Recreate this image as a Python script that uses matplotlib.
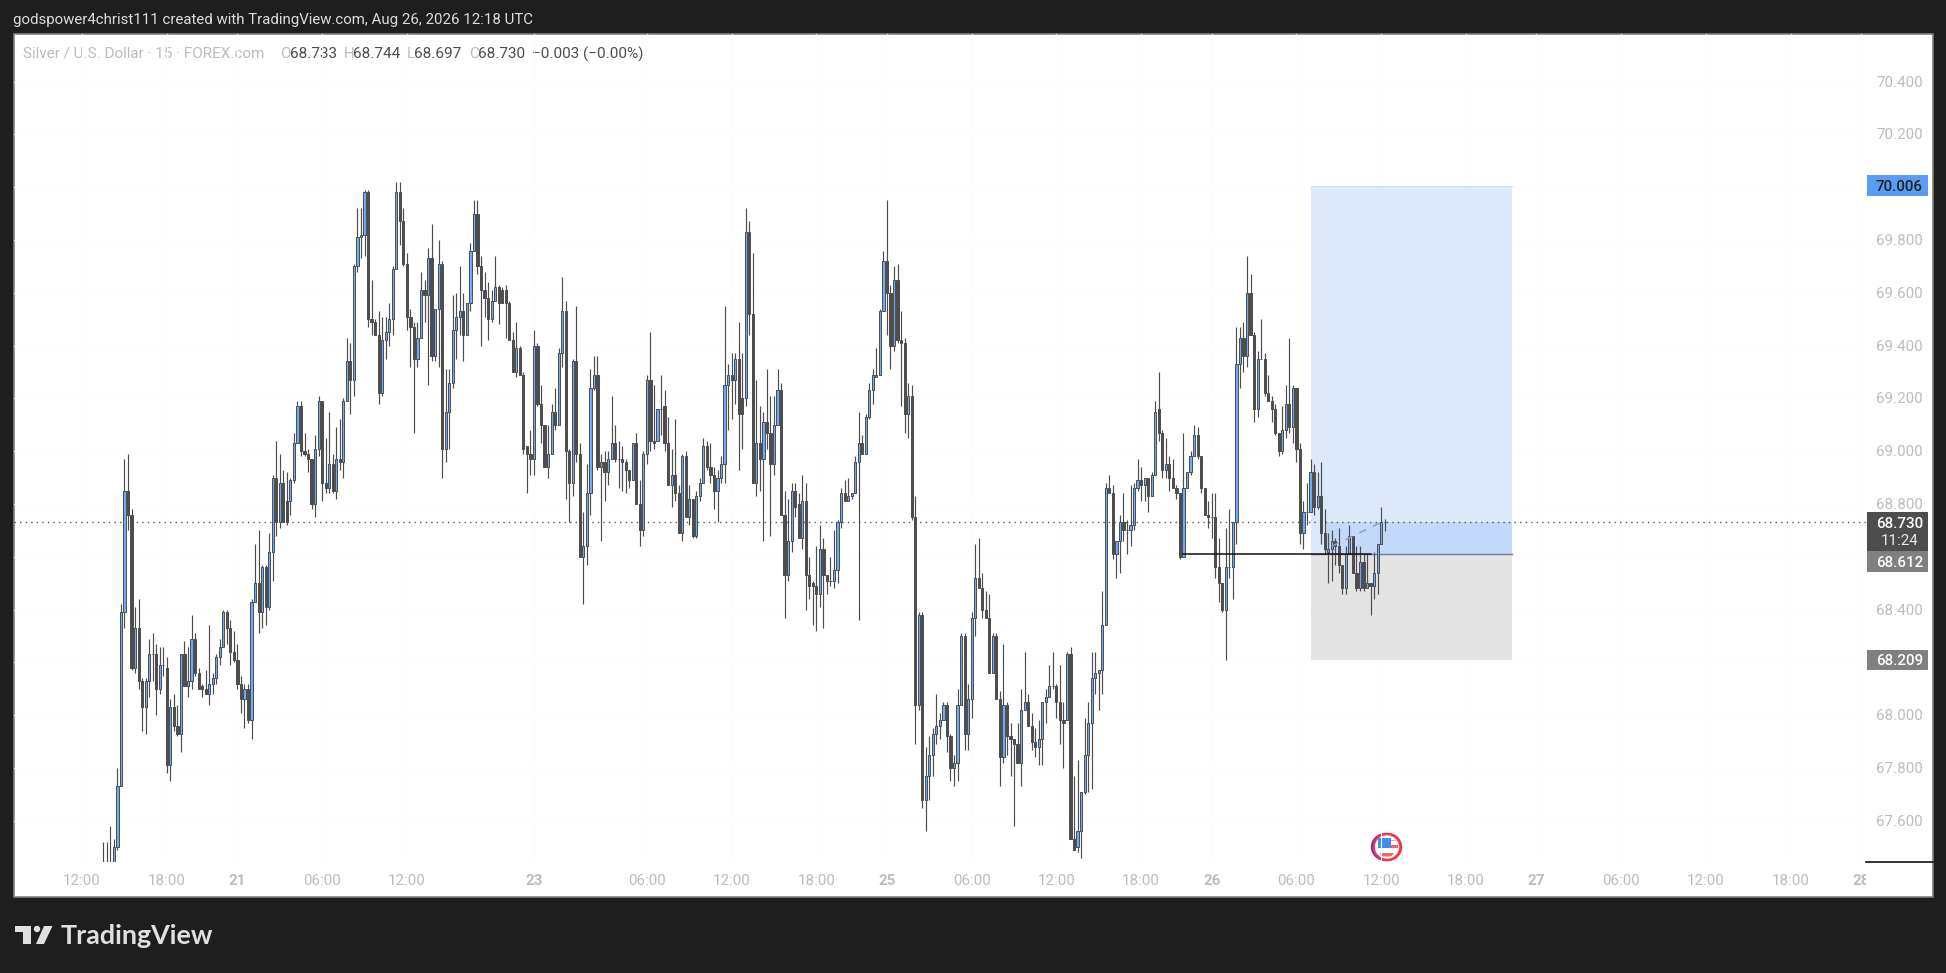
import matplotlib
matplotlib.use("Agg")
import matplotlib.pyplot as plt
from matplotlib.patches import Circle, Ellipse, Polygon, Rectangle

W, H = 1946, 973

opens = [
    67.42,67.42,67.38,67.41,67.50,67.73,68.39,68.85,68.76,68.18,
    68.33,68.13,68.03,68.13,68.23,68.23,68.10,68.19,68.18,67.81,
    68.03,67.96,67.93,68.23,68.11,68.13,68.29,68.16,68.11,68.10,
    68.08,68.12,68.14,68.22,68.26,68.39,68.33,68.24,68.21,68.12,
    68.06,68.10,67.98,68.43,68.50,68.39,68.56,68.41,68.62,68.90,
    68.73,68.88,68.81,68.81,68.89,69.03,69.17,69.00,68.99,68.97,
    68.80,69.01,69.19,68.88,68.86,68.95,68.85,68.97,68.96,69.19,
    69.34,69.27,69.70,69.81,69.82,69.98,69.50,69.49,69.44,69.22,
    69.42,69.45,69.50,69.69,69.98,69.87,69.71,69.51,69.47,69.35,
    69.43,69.61,69.59,69.73,69.36,69.54,69.71,69.01,69.15,69.26,
    69.46,69.51,69.53,69.44,69.56,69.76,69.90,69.70,69.61,69.58,
    69.50,69.57,69.62,69.61,69.61,69.56,69.42,69.30,69.39,69.29,
    69.02,68.99,68.97,69.40,69.18,69.10,68.94,68.99,69.15,69.10,
    69.37,69.53,69.00,68.88,69.34,68.99,68.60,68.64,68.84,69.24,
    69.29,68.94,68.96,68.92,68.97,69.03,68.97,68.97,68.96,68.93,
    68.89,69.03,68.80,68.70,68.99,69.27,69.04,69.04,69.16,69.17,
    69.03,68.87,68.91,68.84,68.69,68.98,68.75,68.82,68.68,68.83,
    68.88,69.02,68.94,68.91,68.85,68.90,68.95,69.25,69.29,69.27,
    69.35,69.20,69.20,69.83,69.52,68.88,69.03,68.97,69.11,69.07,
    68.95,69.10,69.23,68.76,68.53,68.66,68.85,68.80,68.67,68.81,
    68.53,68.50,68.49,68.46,68.63,68.53,68.51,68.51,68.55,68.73,
    68.84,68.81,68.83,68.84,68.96,69.03,68.99,69.13,69.23,69.28,
    69.29,69.53,69.72,69.60,69.40,69.65,69.42,69.41,69.14,69.21,
    68.75,68.04,68.38,67.68,67.77,67.85,67.93,67.96,67.98,68.04,
    67.92,67.80,67.82,68.04,68.30,67.93,68.06,68.37,68.52,68.48,
    68.40,68.37,68.16,68.30,68.06,67.84,68.04,67.92,67.91,67.89,
    67.82,68.02,68.05,67.96,67.90,67.88,67.91,68.05,68.07,68.11,
    68.11,68.05,67.98,67.98,68.23,67.53,67.50,67.56,67.71,67.85,
    67.97,68.14,68.16,68.17,68.34,68.86,68.84,68.61,68.66,68.73,
    68.70,68.70,68.72,68.86,68.89,68.87,68.90,68.83,68.91,69.16,
    69.07,68.93,68.95,68.90,68.86,68.84,68.60,68.86,68.92,68.98,
    69.06,68.98,68.86,68.76,68.75,68.75,68.56,68.50,68.40,68.56,
    68.56,68.73,69.33,69.43,69.36,69.60,69.44,69.16,69.35,69.35,
    69.22,69.19,69.16,69.07,69.00,69.08,69.18,69.09,69.24,69.01,
    68.69,68.77,68.77,68.92,68.79,68.83,68.69,68.62,68.63,68.66,
    68.64,68.57,68.48,68.61,68.68,68.54,68.48,68.58,68.48,68.50,
    68.49,68.54,68.65,68.733,
]
highs = [
    67.52,67.52,67.58,67.53,67.80,68.42,68.97,68.99,68.78,68.41,
    68.44,68.14,68.14,68.29,68.31,68.27,68.26,68.26,68.22,68.06,
    68.08,68.04,68.23,68.28,68.26,68.38,68.31,68.18,68.12,68.17,
    68.34,68.16,68.23,68.29,68.40,68.40,68.36,68.32,68.27,68.15,
    68.12,68.12,68.44,68.65,68.70,68.57,68.57,68.69,68.91,69.04,
    68.99,68.93,68.92,68.90,69.07,69.19,69.19,69.07,69.01,68.97,
    69.06,69.21,69.19,69.05,69.15,68.99,69.09,69.12,69.20,69.43,
    69.41,69.71,69.92,69.92,69.99,69.99,69.65,69.50,69.53,69.51,
    69.51,69.56,69.70,70.02,70.02,69.92,69.75,69.54,69.49,69.49,
    69.68,69.65,69.77,69.86,69.54,69.80,69.72,69.31,69.31,69.59,
    69.60,69.70,69.60,69.56,69.79,69.95,69.95,69.74,69.68,69.64,
    69.61,69.74,69.63,69.62,69.63,69.57,69.45,69.49,69.40,69.30,
    69.02,69.08,69.46,69.41,69.25,69.10,69.10,69.18,69.24,69.39,
    69.66,69.57,69.01,69.35,69.55,69.03,68.77,68.95,69.31,69.36,
    69.36,68.99,69.00,69.00,69.21,69.10,69.04,69.02,68.97,68.93,
    69.03,69.07,68.89,69.00,69.29,69.45,69.25,69.16,69.29,69.23,
    69.13,69.01,69.12,68.87,68.99,69.00,68.87,68.82,68.85,68.90,
    69.05,69.04,69.03,68.94,68.93,68.98,69.55,69.33,69.37,69.37,
    69.49,69.37,69.92,69.87,69.75,69.27,69.17,69.15,69.31,69.21,
    69.21,69.31,69.26,68.85,68.82,68.88,68.88,68.84,68.91,68.88,
    68.60,68.51,68.64,68.72,68.67,68.53,68.60,68.70,68.74,68.86,
    68.89,68.90,68.84,68.98,69.15,69.06,69.14,69.26,69.31,69.39,
    69.54,69.76,69.95,69.63,69.70,69.71,69.53,69.43,69.26,69.25,
    68.83,68.39,68.39,67.88,67.92,67.95,68.08,68.01,68.05,68.05,
    67.93,67.85,68.10,68.31,68.31,68.12,68.39,68.65,68.67,68.54,
    68.47,68.46,68.31,68.31,68.09,68.27,68.05,67.97,67.91,67.97,
    68.10,68.24,68.08,68.01,67.95,67.98,68.05,68.10,68.19,68.24,
    68.12,68.19,68.05,68.24,68.26,67.77,67.83,67.71,67.99,68.05,
    68.24,68.24,68.17,68.47,68.88,68.91,68.87,68.66,68.76,68.84,
    68.74,68.87,68.88,68.97,68.94,68.90,68.90,68.92,69.19,69.30,
    69.08,69.05,68.98,68.97,68.87,68.84,69.07,68.92,69.00,69.10,
    69.09,68.98,68.86,68.81,68.84,68.84,68.67,68.50,68.71,68.78,
    68.73,69.47,69.47,69.49,69.74,69.67,69.45,69.38,69.50,69.37,
    69.29,69.21,69.18,69.07,69.17,69.25,69.43,69.25,69.24,69.03,
    68.81,68.88,68.97,68.95,68.92,68.96,68.78,68.69,68.70,68.67,
    68.71,68.57,68.64,68.72,68.68,68.64,68.64,68.61,68.61,68.50,
    68.62,68.65,68.79,68.744,
]
lows = [
    67.35,67.33,67.30,67.36,67.49,67.73,68.33,68.70,68.17,68.16,
    68.10,67.94,67.93,68.07,68.13,68.00,68.08,68.15,67.78,67.75,
    67.94,67.92,67.86,68.11,68.07,68.10,68.15,68.10,68.07,68.08,
    68.04,68.08,68.12,68.19,68.26,68.27,68.19,68.20,68.10,68.01,
    67.95,67.97,67.91,68.43,68.31,68.33,68.34,68.40,68.51,68.68,
    68.71,68.73,68.72,68.76,68.88,69.03,68.98,68.98,68.92,68.78,
    68.75,68.98,68.81,68.84,68.84,68.84,68.82,68.93,68.90,69.19,
    69.14,69.21,69.68,69.73,69.74,69.47,69.44,69.44,69.18,69.21,
    69.35,69.40,69.44,69.69,69.78,69.70,69.46,69.32,69.07,69.32,
    69.43,69.49,69.25,69.34,69.34,69.32,68.90,68.96,69.01,69.24,
    69.35,69.44,69.34,69.44,69.53,69.76,69.67,69.40,69.51,69.42,
    69.49,69.57,69.48,69.56,69.43,69.42,69.30,69.28,69.29,68.99,
    68.84,68.91,68.91,69.17,69.03,68.94,68.90,68.99,69.08,69.10,
    69.32,68.82,68.73,68.83,68.96,68.60,68.42,68.57,68.76,69.23,
    68.93,68.66,68.81,68.87,68.97,68.96,68.86,68.85,68.84,68.86,
    68.89,68.80,68.64,68.68,68.95,69.00,69.01,69.04,69.06,69.00,
    68.87,68.79,68.81,68.69,68.66,68.75,68.72,68.67,68.67,68.81,
    68.88,68.93,68.88,68.78,68.73,68.88,68.88,69.08,69.12,69.18,
    68.93,69.01,69.17,69.44,68.88,68.83,68.85,68.66,69.01,68.68,
    68.91,69.10,68.76,68.37,68.51,68.62,68.75,68.67,68.63,68.40,
    68.44,68.34,68.32,68.41,68.33,68.46,68.49,68.48,68.50,68.71,
    68.81,68.81,68.82,68.84,68.36,68.99,68.99,69.12,69.18,69.28,
    69.29,69.53,69.44,69.31,69.38,69.41,69.17,69.07,69.05,68.74,
    67.89,68.02,67.65,67.56,67.68,67.77,67.89,67.91,67.98,67.86,
    67.75,67.73,67.75,68.04,67.87,67.87,67.99,68.30,68.48,68.37,
    68.37,68.16,68.16,68.06,67.73,67.82,67.85,67.77,67.58,67.82,
    67.73,68.02,67.96,67.87,67.84,67.81,67.81,67.97,68.07,68.10,
    67.99,67.89,67.80,67.98,67.53,67.49,67.48,67.46,67.70,67.71,
    67.72,68.08,68.02,68.08,68.34,68.84,68.59,68.52,68.54,68.66,
    68.61,68.64,68.70,68.85,68.81,68.81,68.77,68.83,68.91,69.04,
    68.90,68.90,68.85,68.86,68.82,68.59,68.60,68.86,68.91,68.98,
    68.97,68.84,68.76,68.71,68.67,68.52,68.43,68.39,68.21,68.52,
    68.44,68.65,69.24,69.30,69.32,69.44,69.11,69.13,69.35,69.21,
    69.19,69.11,69.06,68.98,68.99,69.05,69.07,69.03,68.96,68.65,
    68.63,68.72,68.77,68.76,68.78,68.65,68.61,68.50,68.51,68.57,
    68.54,68.46,68.46,68.61,68.54,68.47,68.47,68.47,68.48,68.38,
    68.44,68.46,68.65,68.697,
]
closes = [
    67.40,67.38,67.41,67.50,67.73,68.39,68.85,68.76,68.18,68.33,
    68.13,68.03,68.13,68.23,68.23,68.10,68.19,68.19,67.81,68.03,
    67.96,67.93,68.23,68.11,68.13,68.29,68.16,68.10,68.10,68.08,
    68.12,68.14,68.22,68.26,68.39,68.33,68.24,68.21,68.12,68.06,
    68.10,67.98,68.43,68.50,68.39,68.56,68.41,68.62,68.90,68.73,
    68.88,68.73,68.73,68.89,69.03,69.17,69.00,68.99,68.97,68.80,
    69.01,69.19,68.88,68.86,68.95,68.85,68.97,68.96,69.19,69.34,
    69.27,69.70,69.81,69.82,69.98,69.50,69.49,69.44,69.22,69.42,
    69.45,69.50,69.69,69.98,69.87,69.71,69.51,69.47,69.35,69.43,
    69.61,69.59,69.73,69.36,69.54,69.71,69.01,69.15,69.26,69.46,
    69.51,69.53,69.44,69.56,69.76,69.90,69.70,69.61,69.58,69.50,
    69.57,69.62,69.56,69.56,69.56,69.42,69.30,69.39,69.29,69.01,
    68.99,68.97,69.40,69.18,69.10,68.94,68.99,69.15,69.10,69.37,
    69.53,69.00,68.88,69.34,68.99,68.60,68.64,68.84,69.24,69.29,
    68.94,68.96,68.92,68.97,69.03,68.97,68.97,68.96,68.93,68.89,
    69.03,68.80,68.70,68.99,69.27,69.04,69.03,69.16,69.16,69.03,
    68.87,68.91,68.84,68.69,68.98,68.75,68.82,68.68,68.83,68.88,
    69.02,68.94,68.91,68.85,68.90,68.95,69.25,69.29,69.27,69.35,
    69.14,69.14,69.83,69.52,68.88,69.03,68.97,69.11,69.07,68.95,
    69.10,69.23,68.76,68.53,68.66,68.85,68.79,68.67,68.81,68.53,
    68.49,68.49,68.46,68.63,68.53,68.51,68.51,68.55,68.73,68.84,
    68.81,68.83,68.84,68.96,69.03,68.99,69.13,69.23,69.29,69.29,
    69.53,69.72,69.60,69.40,69.65,69.42,69.41,69.14,69.21,68.75,
    68.04,68.38,67.68,67.77,67.85,67.93,67.96,67.98,68.04,67.92,
    67.80,67.82,68.04,68.30,67.93,68.06,68.37,68.52,68.48,68.40,
    68.37,68.16,68.30,68.06,67.84,68.04,67.92,67.91,67.89,67.82,
    68.02,68.05,67.96,67.90,67.88,67.91,68.05,68.07,68.11,68.11,
    68.05,67.98,67.97,68.23,67.53,67.49,67.56,67.71,67.85,67.97,
    68.14,68.16,68.17,68.34,68.86,68.84,68.61,68.66,68.73,68.70,
    68.70,68.72,68.86,68.89,68.87,68.90,68.83,68.91,69.15,69.07,
    68.93,68.95,68.90,68.86,68.84,68.60,68.86,68.92,68.98,69.06,
    68.98,68.86,68.76,68.75,68.75,68.56,68.50,68.40,68.56,68.56,
    68.73,69.33,69.43,69.36,69.60,69.44,69.16,69.35,69.35,69.22,
    69.19,69.16,69.07,69.00,69.08,69.18,69.09,69.24,69.01,68.69,
    68.77,68.77,68.92,68.79,68.83,68.69,68.63,68.63,68.66,68.64,
    68.57,68.48,68.61,68.68,68.54,68.48,68.58,68.48,68.50,68.49,
    68.54,68.65,68.73,68.730,
]

time_ticks = [-6, 18, 38, 62, 86, 122, 154, 178, 202, 222, 246, 270, 294, 314,
              338, 362, 386, 406, 430, 454, 478, 498]
time_labels = ["12:00", "18:00", "21", "06:00", "12:00", "23", "06:00", "12:00",
               "18:00", "25", "06:00", "12:00", "18:00", "26", "06:00", "12:00",
               "18:00", "27", "06:00", "12:00", "18:00", "28"]
price_ticks = [70.4, 70.2, 70.0, 69.8, 69.6, 69.4, 69.2, 69.0, 68.8, 68.6, 68.4,
               68.2, 68.0, 67.8, 67.6]
hidden_ticks = [70.0, 68.6, 68.2]

last_price = 68.730
target = 70.006
entry = 68.612
stop = 68.209
tool_start, tool_end = 342, 399
fill_start = 346
level_start, level_end = 306, 359
path_bars = [348, 363]
path_prices = [68.64, 68.737]

DARK = "#4d4d4d"
BLUE = "#6eaafa"
FRAME = "#1e1e1e"
FAINT = "#bcbcbc"
FONT = "Roboto"
AXIS_SIZE = 10.9
HEAD_SIZE = 10.8
LEGEND_SIZE = 11


def px_axes(fig, x0, y0, x1, y1):
    return fig.add_axes([x0 / W, 1 - y1 / H, (x1 - x0) / W, (y1 - y0) / H])


def price_tag(ax, centre, color, text, text_color="white", height=0.079):
    ax.add_patch(Rectangle((0.02, centre - height / 2), 0.91, height, color=color, lw=0))
    ax.text(0.5, centre - 0.004, text, color=text_color, fontsize=AXIS_SIZE, fontweight="medium",
            ha="center", va="center")


def draw_chrome(ax):
    ax.add_patch(Rectangle((13.5, 34), 1919.5, 863, fc="white", ec="#808080", lw=1.2))
    # flag icon
    ax.add_patch(Ellipse((1386, 847), 29, 27, color="#7a2fb0"))
    ax.add_patch(Ellipse((1387.5, 847), 28, 27, color="#f23645"))
    ax.add_patch(Ellipse((1387, 847), 23, 22, color="white"))
    ax.add_patch(Rectangle((1377.5, 838), 13, 10, color="#3d8ef0", lw=0))
    ax.add_patch(Rectangle((1390.5, 845), 7, 3, color="#f4606b", lw=0))
    ax.add_patch(Rectangle((1390.5, 839.5), 5, 1.5, color="#f8a5ab", lw=0))
    ax.add_patch(Polygon([(1380, 853), (1394, 853), (1391, 856.5), (1383, 856.5)], color="#f4606b", lw=0))
    # logo
    logo = "#e0e0e0"
    ax.add_patch(Polygon([(15, 926), (31, 926), (31, 944), (23, 944), (23, 932), (15, 932)], color=logo, lw=0))
    ax.add_patch(Circle((37, 929), 3.2, color=logo, lw=0))
    ax.add_patch(Polygon([(44, 926), (52.5, 926), (44, 944), (36, 944)], color=logo, lw=0))
    ax.text(61, 936, "TradingView", color=logo, fontsize=19.4, family="Lato", fontweight="bold",
            ha="left", va="center")
    ax.text(13, 20, "godspower4christ111 created with TradingView.com, Aug 26, 2026 12:18 UTC",
            color="#dcdcdc", fontsize=HEAD_SIZE, ha="left", va="center")
    # symbol legend
    y = 54
    ax.text(23, y, "Silver / U.S. Dollar · 15 · FOREX.com", color=FAINT, fontsize=LEGEND_SIZE, ha="left", va="center")
    for x, letter, value_x, value in [(280, "O", 290, "68.733"), (344, "H", 353, "68.744"),
                                      (407, "L", 414, "68.697"), (469, "C", 478, "68.730")]:
        ax.text(x, y, letter, color=FAINT, fontsize=LEGEND_SIZE, ha="left", va="center")
        ax.text(value_x, y, value, color=DARK, fontsize=LEGEND_SIZE, ha="left", va="center")
    ax.text(532, y, "−0.003 (−0.00%)", color=DARK, fontsize=LEGEND_SIZE, ha="left", va="center")


def main():
    plt.rcParams["font.family"] = [FONT, "DejaVu Sans"]
    fig = plt.figure(figsize=(W / 100, H / 100), dpi=100, facecolor=FRAME)

    chrome = fig.add_axes([0, 0, 1, 1], zorder=0)
    chrome.set_xlim(0, W)
    chrome.set_ylim(H, 0)
    chrome.axis("off")
    draw_chrome(chrome)

    ax = px_axes(fig, 14, 34, 1866, 862)
    ax.set_zorder(1)
    ax.patch.set_alpha(0)
    spacing = 3.53
    ax.set_xlim((14 - 103.3) / spacing, (1866 - 103.3) / spacing)
    ax.set_ylim(67.444, 70.58)
    for s in ax.spines.values():
        s.set_visible(False)
    ax.set_xticks(time_ticks)
    ax.set_yticks(price_ticks)
    ax.tick_params(length=0, labelleft=False, labelbottom=False)
    ax.grid(True, color="#fdfdfd", lw=0.8)
    ax.set_axisbelow(True)

    # position tool
    tool_x = [tool_start, tool_end]
    ax.fill_between(tool_x, entry, target, color="#dce9fb", lw=0, zorder=1)
    ax.fill_between(tool_x, stop, entry, color="#e4e4e4", lw=0, zorder=1)
    ax.fill_between([fill_start, tool_end], entry, last_price, color="#c3d9f9", lw=0, zorder=1.1)
    ax.plot(tool_x, [entry, entry], color="#787b86", lw=1, zorder=1.2)
    ax.plot(tool_x, [target, target], color="#cfe0f8", lw=0.8, zorder=1.2)

    ax.axhline(last_price, color="#555555", lw=1, ls=(0, (1, 3)), zorder=2)

    xs = list(range(len(opens)))
    ax.vlines(xs, lows, highs, color=DARK, lw=0.85, zorder=3)
    bottoms = [min(o, c) for o, c in zip(opens, closes)]
    heights = [abs(o - c) for o, c in zip(opens, closes)]
    faces = [BLUE if c >= o else DARK for o, c in zip(opens, closes)]
    ax.bar(xs, heights, bottom=bottoms, width=0.62, color=faces, edgecolor=DARK, lw=0.7, zorder=4)

    ax.plot([level_start, level_end], [entry, entry], color="#111111", lw=1.1, zorder=5)
    ax.plot(path_bars, path_prices, color="#a0a0a0", lw=1.1, ls=(0, (5, 5)), zorder=5)

    # price axis
    ax_price = px_axes(fig, 1866, 34, 1933, 862)
    ax_price.set_zorder(2)
    ax_price.patch.set_alpha(0)
    ax_price.set_xlim(0, 1)
    ax_price.set_ylim(ax.get_ylim())
    ax_price.axis("off")
    for p in price_ticks:
        if p not in hidden_ticks:
            ax_price.text(0.5, p - 0.004, f"{p:.3f}", color=FAINT, fontsize=AXIS_SIZE, ha="center", va="center")
    price_tag(ax_price, target, "#5a9cf5", f"{target:.3f}", text_color="#222222")
    # the entry tag is pushed down by the last price tag
    price_tag(ax_price, entry - 0.03, "#808080", f"{entry:.3f}")
    price_tag(ax_price, stop, "#808080", f"{stop:.3f}")
    ax_price.add_patch(Rectangle((0.02, 68.622), 0.91, 0.148, color=DARK, lw=0))
    ax_price.text(0.5, last_price - 0.004, f"{last_price:.3f}", color="white", fontsize=AXIS_SIZE,
                  fontweight="medium", ha="center", va="center")
    ax_price.text(0.5, last_price - 0.07, "11:24", color="#e8e8e8", fontsize=AXIS_SIZE, ha="center", va="center")
    ax_price.plot([0, 1], [67.444, 67.444], color="#111111", lw=1.2, clip_on=False)

    # time axis
    ax_time = px_axes(fig, 14, 862, 1866, 896)
    ax_time.set_zorder(2)
    ax_time.patch.set_alpha(0)
    ax_time.set_xlim(ax.get_xlim())
    ax_time.set_ylim(0, 1)
    ax_time.axis("off")
    for t, label in zip(time_ticks, time_labels):
        ax_time.text(t, 0.44, label, color=FAINT, fontsize=AXIS_SIZE, ha="center", va="center",
                     fontweight="bold" if len(label) == 2 else "normal", clip_on=True)

    fig.savefig("out.png", dpi=100, facecolor=FRAME)


if __name__ == "__main__":
    main()
